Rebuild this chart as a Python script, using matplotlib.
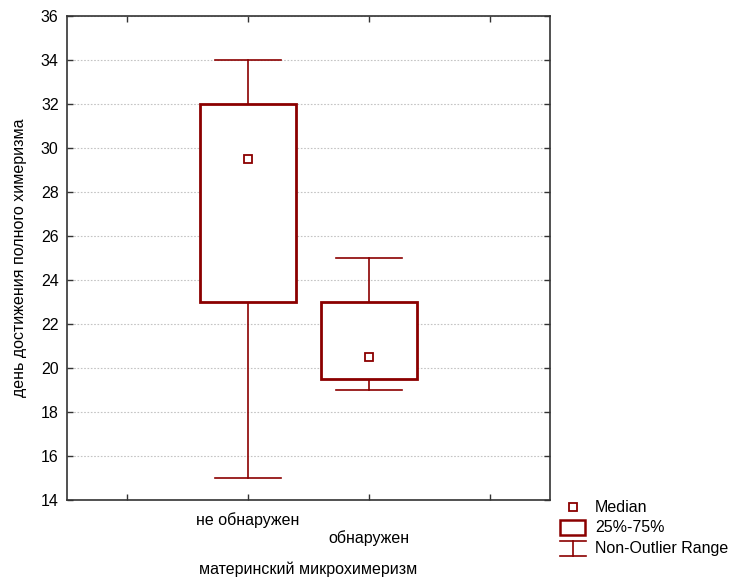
import matplotlib
matplotlib.use("Agg")
import matplotlib.pyplot as plt
from matplotlib.patches import Rectangle
from matplotlib.lines import Line2D

plt.rcParams['font.family'] = ['Liberation Sans', 'DejaVu Sans']

# группы и статистики
groups = ["не обнаружен", "обнаружен"]
medians = [29.5, 20.5]
q1 = [23.0, 19.5]
q3 = [32.0, 23.0]
whisker_lo = [15.0, 19.0]
whisker_hi = [34.0, 25.0]

color = '#8B0000'
positions = [1, 2]
box_w = 0.79
cap_w = 0.55
fs = 11.5

fig = plt.figure(figsize=(7.31, 5.79), dpi=100)
ax = fig.add_axes([67 / 731, 79 / 579, 483 / 731, 484 / 579])

for x, md, lo, hi, wl, wh in zip(positions, medians, q1, q3, whisker_lo, whisker_hi):
    ax.plot([x, x], [hi, wh], color=color, lw=1.2, zorder=3)
    ax.plot([x, x], [wl, lo], color=color, lw=1.2, zorder=3)
    ax.plot([x - cap_w / 2, x + cap_w / 2], [wh, wh], color=color, lw=1.2, zorder=3)
    ax.plot([x - cap_w / 2, x + cap_w / 2], [wl, wl], color=color, lw=1.2, zorder=3)
    ax.add_patch(Rectangle((x - box_w / 2, lo), box_w, hi - lo, facecolor='white',
                           edgecolor=color, lw=2, zorder=4))
    ax.plot([x], [md], marker='s', ms=6, mfc='white', mec=color, mew=1.3, zorder=5)

ax.set_xlim(-0.5, 3.5)
ax.set_ylim(14, 36)
ax.set_yticks(range(14, 37, 2))
ax.set_xticks([0, 1, 2, 3])
ax.set_xticklabels(["", groups[0], "\n" + groups[1], ""])
ax.grid(axis='y', color='#c4c4c4', linestyle=(0, (1.5, 1.5)), lw=0.8)
ax.set_axisbelow(True)
ax.tick_params(direction='in', top=True, right=True, length=4, width=1, labelsize=fs,
               color='#333333')
ax.tick_params(axis='x', pad=9)
ax.tick_params(axis='y', pad=6)
for s in ax.spines.values():
    s.set_linewidth(1.2)
    s.set_color('#333333')

ax.set_ylabel("день достижения полного химеризма", fontsize=fs)
ax.yaxis.set_label_coords(-0.083, 0.5)
ax.set_xlabel("материнский микрохимеризм", fontsize=fs)
ax.xaxis.set_label_coords(0.5, -0.128)

# легенда справа внизу
tf = fig.transFigure
def fx(px):
    return px / 731
def fy(py):
    return 1 - py / 579

fig.add_artist(Line2D([fx(573)], [fy(507)], marker='s', ms=6, mfc='white', mec=color,
                      mew=1.3, transform=tf))
fig.add_artist(Rectangle((fx(560), fy(535)), fx(585) - fx(560), fy(520) - fy(535),
                         facecolor='white', edgecolor=color, lw=1.8, transform=tf))
fig.add_artist(Line2D([fx(560), fx(586)], [fy(541), fy(541)], color=color, lw=1.2, transform=tf))
fig.add_artist(Line2D([fx(560), fx(586)], [fy(556), fy(556)], color=color, lw=1.2, transform=tf))
fig.add_artist(Line2D([fx(573), fx(573)], [fy(541), fy(556)], color=color, lw=1.2, transform=tf))
for label, py in [("Median", 507), ("25%-75%", 527), ("Non-Outlier Range", 548)]:
    fig.text(fx(595), fy(py), label, fontsize=fs, va='center', ha='left')

fig.savefig("out.png", dpi=100)
